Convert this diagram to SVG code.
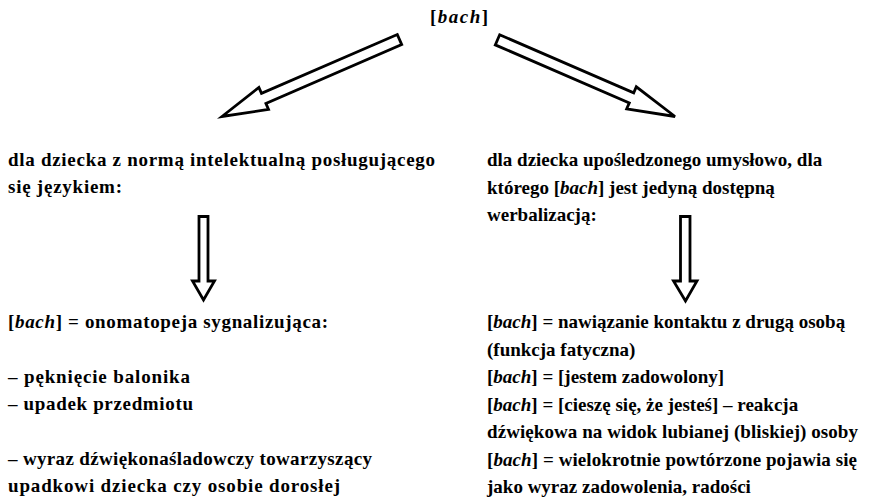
<svg xmlns="http://www.w3.org/2000/svg" width="869" height="499" viewBox="0 0 869 499">
<style>
text{font-family:'Liberation Serif','Times New Roman',Times,serif;font-size:19px;font-weight:bold;fill:#000}
.i{font-style:italic}
.arr{fill:#fff;stroke:#000;stroke-width:2.8;stroke-linejoin:miter}
</style>
<rect width="869" height="499" fill="#fff"/>
<g id="root">
<text x="430" y="23" font-size="20" textLength="58" lengthAdjust="spacing">[<tspan class="i">bach</tspan>]</text>
</g>
<g id="connectors">
<polygon class="arr" points="397.3,34.5 401.7,44.6 265.9,103.4 268.5,109.4 222,116.5 258.9,87.4 261.5,93.4"/>
<polygon class="arr" points="499.7,34.8 495.3,44.9 629.3,102.9 626.7,108.8 675,116.5 636.3,86.8 633.7,92.8"/>
<polygon class="arr" points="199,216.5 208,216.5 208,281 214.5,281 203.5,300 192.5,281 199,281"/>
<polygon class="arr" points="680.5,216.5 690,216.5 690,281 697,281 685.5,301 673.5,281 680.5,281"/>
</g>
<g id="left-head">
<text x="8" y="166" textLength="427" lengthAdjust="spacing">dla dziecka z normą intelektualną posługującego</text>
<text x="8" y="193" textLength="114" lengthAdjust="spacing">się językiem:</text>
</g>
<g id="right-head">
<text x="487" y="166">dla dziecka upośledzonego umysłowo, dla</text>
<text x="487" y="194">którego [<tspan class="i">bach</tspan>] jest jedyną dostępną</text>
<text x="487" y="221">werbalizacją:</text>
</g>
<g id="left-result">
<text x="8" y="328" textLength="320" lengthAdjust="spacing">[<tspan class="i">bach</tspan>] = onomatopeja sygnalizująca:</text>
<text x="8" y="383" textLength="182" lengthAdjust="spacing">– pęknięcie balonika</text>
<text x="8" y="410" textLength="185" lengthAdjust="spacing">– upadek przedmiotu</text>
<text x="8" y="465" textLength="364" lengthAdjust="spacing">– wyraz dźwiękonaśladowczy towarzyszący</text>
<text x="8" y="492" textLength="332" lengthAdjust="spacing">upadkowi dziecka czy osobie dorosłej</text>
</g>
<g id="right-result">
<text x="487" y="328">[<tspan class="i">bach</tspan>] = nawiązanie kontaktu z drugą osobą</text>
<text x="487" y="356">(funkcja fatyczna)</text>
<text x="487" y="383">[<tspan class="i">bach</tspan>] = [jestem zadowolony]</text>
<text x="487" y="411">[<tspan class="i">bach</tspan>] = [cieszę się, że jesteś] – reakcja</text>
<text x="487" y="438" textLength="371" lengthAdjust="spacing">dźwiękowa na widok lubianej (bliskiej) osoby</text>
<text x="487" y="466" textLength="370" lengthAdjust="spacing">[<tspan class="i">bach</tspan>] = wielokrotnie powtórzone pojawia się</text>
<text x="487" y="493">jako wyraz zadowolenia, radości</text>
</g>
</svg>
